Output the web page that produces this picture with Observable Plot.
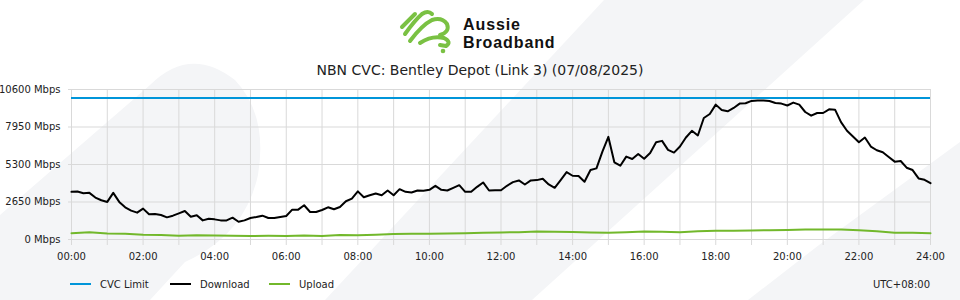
<!DOCTYPE html>
<html>
<head>
<meta charset="utf-8">
<script src="https://cdn.jsdelivr.net/npm/d3@7"></script>
<script src="https://cdn.jsdelivr.net/npm/@observablehq/plot@0.6"></script>
<style>
  html, body { margin: 0; padding: 0; background: #fff; }
  #wrap { position: relative; width: 960px; height: 300px; overflow: hidden; font-family: "DejaVu Sans", sans-serif; }
  #bg, #overlay { position: absolute; left: 0; top: 0; }
  #overlay { pointer-events: none; }
  #chart { position: absolute; left: 0; top: 80px; }
</style>
</head>
<body>
<div id="wrap">
  <svg id="bg" width="960" height="300">
    <g fill="#f4f5f7">
      <path d="M0,300 L0,215 L150,85 Q190,45 235,80 Q268,115 258,175 Q245,235 185,262 L150,300 Z"/>
      <path d="M325,300 L604,0 L864,0 L532,300 Z"/>
      <path d="M748,300 L819,245 L960,142 L960,300 Z"/>
    </g>
  </svg>
  <div id="chart"></div>
  <svg id="overlay" width="960" height="300">
    <g fill="none" stroke="#7ac143" stroke-width="4" stroke-linecap="round" stroke-linejoin="round">
      <path d="M402,27 L415,14"/>
      <path d="M405,34 Q415,20 422,14 Q428,10 432,14"/>
      <path d="M410,41 Q422,25 432,20 Q442,17 447,24 Q450,32 440,35"/>
      <path d="M420,43 Q432,35 444,38 Q452,42 446,46 L440,45"/>
    </g>
    <circle cx="443" cy="51" r="2.3" fill="#7ac143"/>
    <g font-family="'Liberation Sans', Arial, sans-serif" font-weight="bold" font-size="16" letter-spacing="0.9" fill="#111">
      <text x="463" y="30">Aussie</text>
      <text x="463" y="48">Broadband</text>
    </g>
    <text x="480" y="75" text-anchor="middle" font-family="'DejaVu Sans', sans-serif" font-size="14" fill="#222">NBN CVC: Bentley Depot (Link 3) (07/08/2025)</text>
    <g id="legend" font-family="'DejaVu Sans', sans-serif" font-size="10" fill="#222"></g>
    <text x="930" y="287.5" text-anchor="end" font-family="'DejaVu Sans', sans-serif" font-size="10" fill="#222">UTC+08:00</text>
  </svg>
</div>
<script>
// ---- data ----
const title = "NBN CVC: Bentley Depot (Link 3) (07/08/2025)";
const cvcLimitMbps = 10000;
const downloadStepMinutes = 10;
const downloadMbps = [
  3367, 3390, 3272, 3296, 2964, 2774, 2656, 3296, 2656, 2276, 2039, 1897,
  2181, 1778, 1802, 1731, 1565, 1683, 1849, 2015, 1612, 1707, 1351, 1470,
  1423, 1351, 1351, 1541, 1257, 1351, 1517, 1589, 1683, 1517, 1517, 1589,
  1660, 2110, 2110, 2418, 1944, 1944, 2086, 2276, 2134, 2300, 2703, 2893,
  3400, 2987, 3130, 3248, 3130, 3462, 3130, 3557, 3367, 3319, 3462, 3438,
  3509, 3794, 3509, 3462, 3651, 3841, 3367, 3367, 3722, 4031, 3462, 3485,
  3480, 3794, 4054, 4173, 3888, 4173, 4197, 4292, 3888, 3651, 4197, 4760,
  4505, 4481, 4078, 4908, 5027, 6212, 7250, 5453, 5216, 5856, 5690, 6046,
  5710, 6117, 6876, 6971, 6331, 6141, 6568, 7208, 7682, 7350, 8583, 8868,
  9531, 9152, 9057, 9294, 9603, 9626, 9792, 9816, 9816, 9792, 9650, 9603,
  9470, 9674, 9531, 9010, 8749, 8939, 8939, 9199, 9176, 8299, 7682, 7279,
  6876, 7208, 6568, 6307, 6165, 5833, 5501, 5548, 5074, 4908, 4315, 4220,
  3983
];
const uploadStepMinutes = 30;
const uploadMbps = [
  450, 520, 430, 400, 330, 310, 260, 300, 280, 260, 250, 260,
  250, 280, 250, 320, 300, 330, 380, 400, 410, 430, 450, 470,
  500, 520, 560, 550, 530, 500, 470, 520, 560, 550, 510, 580,
  610, 620, 640, 650, 680, 700, 710, 700, 660, 590, 480, 470,
  440
];
const yTicks = [0, 2650, 5300, 7950, 10600];
const hourGrid = [0,1,2,3,4,5,6,7,8,9,10,11,12,13,14,15,16,17,18,19,20,21,22,23,24];
const hourLabels = [0, 2, 4, 6, 8, 10, 12, 14, 16, 18, 20, 22, 24];
const seriesNames = ["CVC Limit", "Download", "Upload"];
const seriesColors = ["#0095d9", "#000000", "#72b82b"];
const tzLabel = "UTC+08:00";

// ---- build rows ----
const downloadRows = downloadMbps.map((v, i) => ({h: i * downloadStepMinutes / 60, v}));
const uploadRows = uploadMbps.map((v, i) => ({h: i * uploadStepMinutes / 60, v}));
const gridColor = "#d9d9d9";
const fmtHour = h => String(h).padStart(2, "0") + ":00";

const chart = Plot.plot({
  width: 960,
  height: 190,
  marginTop: 9,
  marginBottom: 31,
  marginLeft: 71,
  marginRight: 30,
  style: {background: "transparent", fontFamily: "'DejaVu Sans', sans-serif", fontSize: "10px", color: "#222", overflow: "visible"},
  x: {domain: [0, 24]},
  y: {domain: [0, 10600]},
  marks: [
    Plot.gridX(hourGrid, {stroke: gridColor, strokeOpacity: 1}),
    Plot.gridY(yTicks, {stroke: gridColor, strokeOpacity: 1}),
    Plot.axisX(hourGrid, {tickSize: 6, tickFormat: () => "", stroke: gridColor, label: null}),
    Plot.axisX(hourLabels, {tickSize: 0, tickPadding: 13, tickFormat: fmtHour, label: null, fill: "#222"}),
    Plot.axisY(yTicks, {tickSize: 3, tickPadding: 8, tickFormat: d => `${d} Mbps`, label: null, stroke: gridColor, fill: "#222"}),
    Plot.ruleY([cvcLimitMbps], {stroke: seriesColors[0], strokeWidth: 2}),
    Plot.line(uploadRows, {x: "h", y: "v", stroke: seriesColors[2], strokeWidth: 2}),
    Plot.line(downloadRows, {x: "h", y: "v", stroke: seriesColors[1], strokeWidth: 2, strokeLinejoin: "round"})
  ]
});
document.getElementById("chart").appendChild(chart);

// legend
const legend = d3.select("#legend");
const legendX = [70, 170, 269];
seriesNames.forEach((name, i) => {
  const g = legend.append("g").attr("transform", `translate(${legendX[i]},284)`);
  g.append("line").attr("x1", 0).attr("x2", 21).attr("y1", 0).attr("y2", 0)
    .attr("stroke", seriesColors[i]).attr("stroke-width", 2);
  g.append("text").attr("x", 30).attr("y", 3.5).text(name);
});
</script>
</body>
</html>
